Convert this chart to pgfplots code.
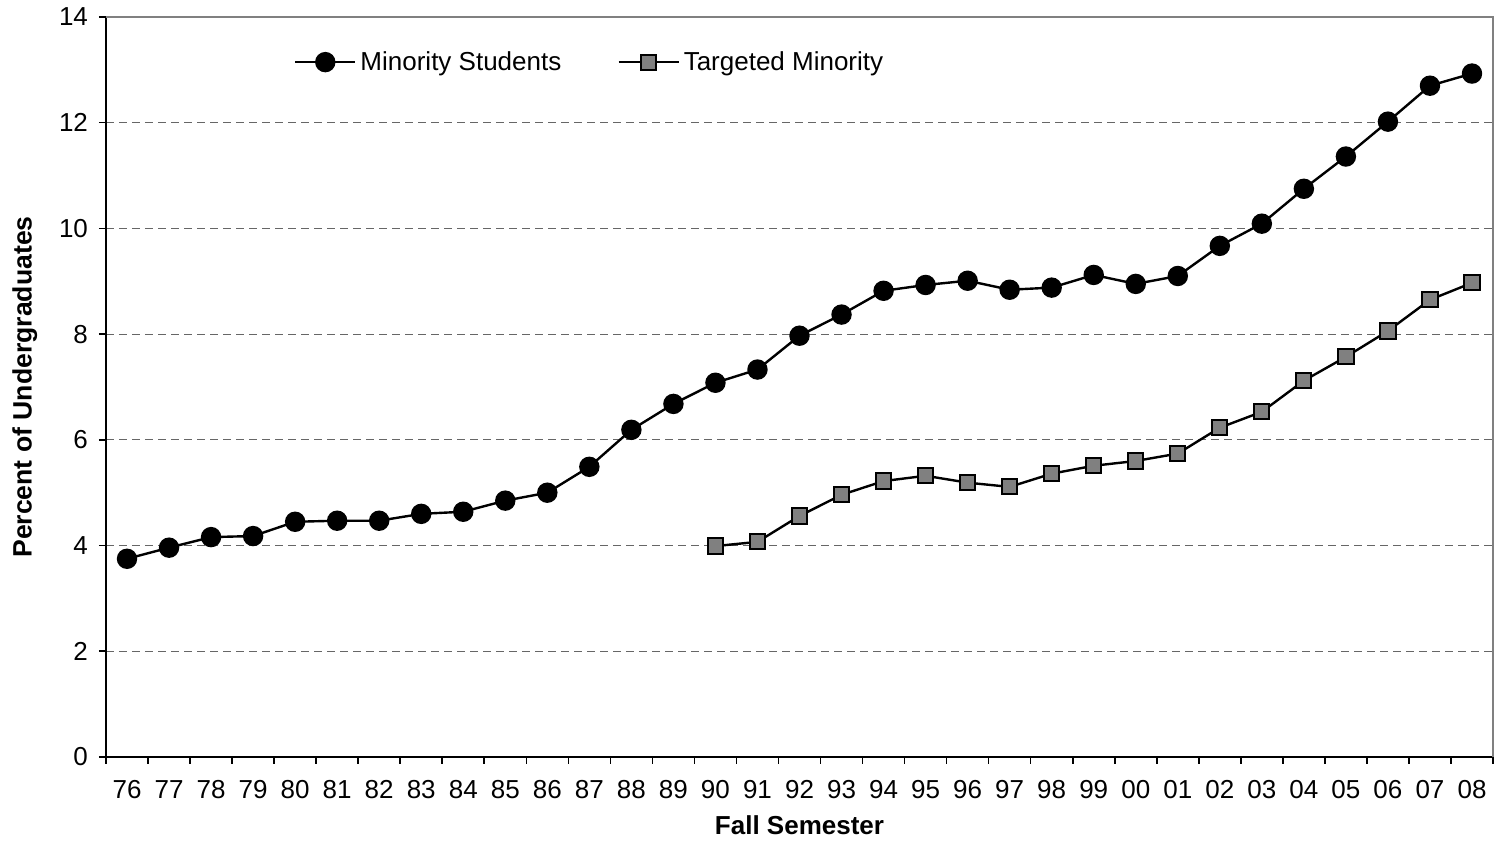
\documentclass[border=0pt]{standalone}
\usepackage{pgfplots}
\pgfplotsset{compat=1.18}
\usepackage{fontspec}
\setmainfont{Liberation Sans}
\begin{document}
\begin{tikzpicture}
\begin{axis}[
  name=ax,
  scale only axis,
  width=693.5pt, height=370pt,
  xmin=-0.5, xmax=32.5, ymin=0, ymax=14,
  axis x line*=bottom, axis y line*=left,
  axis line style={black, line width=1.2pt},
  xtick={0,...,32},
  xticklabels={76,77,78,79,80,81,82,83,84,85,86,87,88,89,90,91,92,93,94,95,96,97,98,99,00,01,02,03,04,05,06,07,08},
  minor xtick={-0.5,0.5,...,32.5},
  major x tick style={draw=none},
  minor x tick style={black, line width=0.8pt},
  ytick={0,2,...,14},
  y tick style={black, line width=0.8pt},
  tick align=outside,
  major tick length=3.5pt, minor tick length=3.5pt,
  ymajorgrids,
  grid style={dash pattern=on 4pt off 2.5pt, gray!80!black, line width=0.6pt},
  /pgf/number format/assume math mode=true,
  tick label style={font=\fontsize{13}{15}\selectfont},
  xticklabel style={yshift=-4.5pt, text height=9.4pt, text depth=0pt},
  yticklabel style={xshift=-2pt},
  xlabel={\textbf{Fall Semester}},
  ylabel={\textbf{Percent of Undergraduates}},
  xlabel style={font=\fontsize{13}{15}\selectfont, yshift=-1.5pt},
  ylabel style={font=\fontsize{13.3}{15}\selectfont, yshift=4pt},
  legend columns=2,
  legend style={draw=none, fill=none, at={(0.131,0.939)}, anchor=west,
    font=\fontsize{13}{15}\selectfont, /tikz/every even column/.append style={column sep=26pt}},
  legend image code/.code={\draw[mark repeat=2,mark phase=2] plot coordinates {(0pt,0pt)(15pt,0pt)(30pt,0pt)};},
  clip=false,
]
\addplot[black, line width=1.2pt, mark=*, mark size=4.5pt, mark options={fill=black}] coordinates {
(0,3.75)(1,3.96)(2,4.16)(3,4.18)(4,4.45)(5,4.47)(6,4.47)(7,4.60)(8,4.64)(9,4.85)(10,5.00)
(11,5.49)(12,6.19)(13,6.68)(14,7.08)(15,7.33)(16,7.97)(17,8.37)(18,8.82)(19,8.93)(20,9.01)
(21,8.84)(22,8.88)(23,9.12)(24,8.95)(25,9.10)(26,9.67)(27,10.09)(28,10.75)(29,11.36)(30,12.02)
(31,12.70)(32,12.93)};
\addlegendentry{Minority Students}
\addplot[black, line width=1.2pt, mark=square*, mark size=3.8pt, mark options={fill=gray, line width=1pt}] coordinates {
(14,3.99)(15,4.07)(16,4.56)(17,4.96)(18,5.22)(19,5.32)(20,5.19)(21,5.11)(22,5.36)(23,5.51)
(24,5.60)(25,5.74)(26,6.23)(27,6.53)(28,7.12)(29,7.57)(30,8.06)(31,8.65)(32,8.97)};
\addlegendentry{Targeted Minority}
\draw[gray, line width=1.2pt] (rel axis cs:0,1) -- (rel axis cs:1,1) -- (rel axis cs:1,0);
\end{axis}
\pgfresetboundingbox
\path (ax.south west) ++(-53pt,-43pt) coordinate (bl);
\path (ax.north east) ++(1pt,8.5pt) coordinate (tr);
\path[use as bounding box] (bl) rectangle (tr);
\end{tikzpicture}
\end{document}
